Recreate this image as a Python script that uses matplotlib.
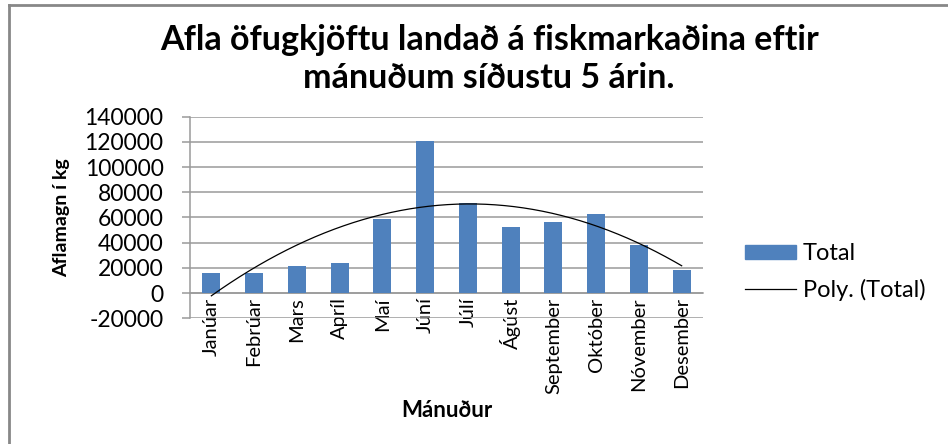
import numpy as np
import matplotlib
matplotlib.use("Agg")
import matplotlib.pyplot as plt
from matplotlib.patches import Patch
from matplotlib.lines import Line2D

months = ["Janúar", "Febrúar", "Mars", "Apríl", "Maí", "Júní", "Júlí",
          "Ágúst", "September", "Október", "Nóvember", "Desember"]
total = [15700, 15800, 21600, 23700, 58900, 120500, 71300,
         52800, 56500, 62800, 38500, 18500]
yticks = [-20000, 0, 20000, 40000, 60000, 80000, 100000, 120000, 140000]

title = "Afla öfugkjöftu landað á fiskmarkaðina eftir\nmánuðum síðustu 5 árin."

plt.rcParams["font.family"] = ["Lato", "DejaVu Sans"]
plt.rcParams["axes.unicode_minus"] = False

BAR = "#4F81BD"
GRID = "#9a9a9a"

fig = plt.figure(figsize=(9.48, 4.44), dpi=100)
ax = fig.add_axes([0.2004, 0.2831, 0.5412, 0.4541])

x = np.arange(len(months))
ax.bar(x, total, width=0.42, color=BAR, zorder=3)

# 2nd order polynomial trendline, like Excel's "Poly." trend
xs = np.arange(1, len(total) + 1)
coef = np.polyfit(xs, total, 2)
xf = np.linspace(1, len(total), 200)
ax.plot(xf - 1, np.polyval(coef, xf), color="black", lw=0.9, zorder=4)

ax.set_xlim(-0.5, len(months) - 0.5)
ax.set_ylim(-20000, 140000)
ax.set_yticks(yticks)
ax.set_yticklabels([str(v) for v in yticks], fontsize=16.5)
ax.yaxis.grid(True, color=GRID, lw=1.1, zorder=0)
ax.set_axisbelow(True)

ax.spines["bottom"].set_position(("data", 0))
for s in ["top", "right"]:
    ax.spines[s].set_visible(False)
ax.spines["left"].set_color(GRID)
ax.spines["left"].set_linewidth(1.1)
ax.spines["bottom"].set_color(GRID)
ax.spines["bottom"].set_linewidth(1.1)

ax.set_xticks(x)
ax.set_xticklabels(months, rotation=90, fontsize=14.5)
ax.tick_params(axis="x", length=0, pad=3)
ax.tick_params(axis="y", length=6, color=GRID, width=1.1, pad=13)

ax.set_ylabel("Aflamagn í kg", fontsize=14, fontweight="bold", va="center")
ax.yaxis.set_label_coords(-0.2495, 0.4975)
ax.set_xlabel("Mánuður", fontsize=16, fontweight="bold", va="center")
ax.xaxis.set_label_coords(0.5, -0.455)

fig.text(0.516, 1 - 59 / 444, title, ha="center", va="center",
         fontsize=24.5, fontweight="bold", linespacing=1.2)

handles = [Patch(facecolor=BAR, edgecolor=BAR),
           Line2D([0], [0], color="black", lw=0.9)]
fig.legend(handles, ["Total", "Poly. (Total)"], loc="center left",
           bbox_to_anchor=(745 / 948, 1 - 272 / 444), frameon=False,
           fontsize=17, handlelength=2.15, handleheight=0.5,
           handletextpad=0.3, labelspacing=0.6, borderpad=0,
           borderaxespad=0)

# chart-area border (top and left edges visible in the reference)
fig.add_artist(Line2D([9 / 948, 1], [1 - 5 / 444, 1 - 5 / 444],
                      transform=fig.transFigure, color="#888888", lw=2))
fig.add_artist(Line2D([9 / 948, 9 / 948], [0, 1 - 5 / 444],
                      transform=fig.transFigure, color="#888888", lw=2))

fig.savefig("out.png", dpi=100)
